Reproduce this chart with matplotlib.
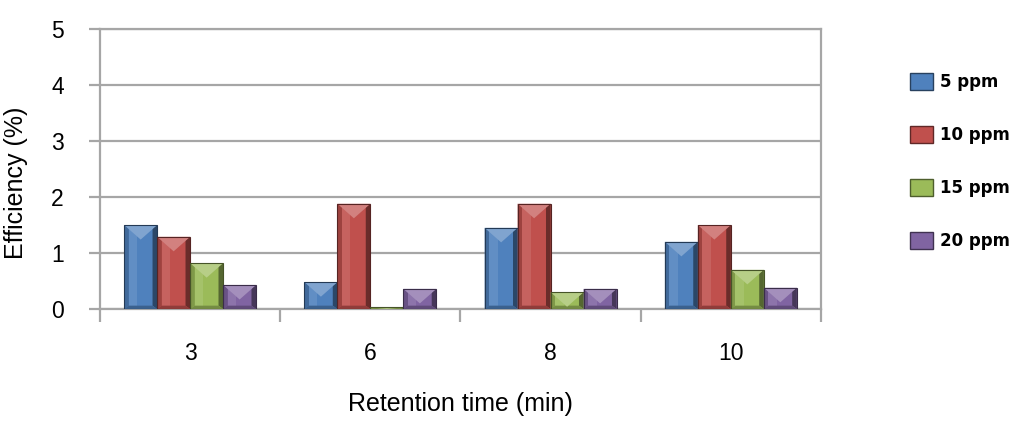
import numpy as np
import matplotlib.pyplot as plt
from matplotlib.patches import Polygon, Patch
from matplotlib.colors import to_rgb

plt.rcParams["font.family"] = ["Liberation Sans", "DejaVu Sans"]

# retention time groups and efficiency per concentration
categories = ["3", "6", "8", "10"]
series_names = ["5 ppm", "10 ppm", "15 ppm", "20 ppm"]
eff_5ppm = [1.50, 0.48, 1.45, 1.20]
eff_10ppm = [1.29, 1.88, 1.88, 1.50]
eff_15ppm = [0.82, 0.03, 0.30, 0.70]
eff_20ppm = [0.43, 0.36, 0.36, 0.38]
series_values = [eff_5ppm, eff_10ppm, eff_15ppm, eff_20ppm]
series_colors = ["#4F81BD", "#C0504D", "#9BBB59", "#8064A2"]


def shade(color, f):
    c = np.array(to_rgb(color))
    if f >= 1:
        return tuple(c + (1 - c) * (f - 1))
    return tuple(c * f)


def bevel_bar(ax, x0, w, h, color):
    # flat body plus lighter/darker faces for the slanted look
    x1 = x0 + w
    bx = w * 0.14
    by = min(0.06, h / 2)
    vd = min(0.26, h)
    ax.add_patch(Polygon([(x0, 0), (x1, 0), (x1, h), (x0, h)], closed=True,
                         facecolor=color, edgecolor="none", zorder=3))
    # left face
    ax.add_patch(Polygon([(x0, 0), (x0 + bx, by), (x0 + bx, h - by), (x0, h)],
                         closed=True, facecolor=shade(color, 0.82), edgecolor="none", zorder=4))
    # centre sheen
    ax.add_patch(Polygon([(x0 + bx, by), (x0 + bx * 2.8, by), (x0 + bx * 2.8, h - by), (x0 + bx, h - by)],
                         closed=True, facecolor=shade(color, 1.1), edgecolor="none", zorder=4))
    # right face
    ax.add_patch(Polygon([(x1, 0), (x1 - bx, by), (x1 - bx, h - by), (x1, h)],
                         closed=True, facecolor=shade(color, 0.55), edgecolor="none", zorder=4))
    # bottom face
    ax.add_patch(Polygon([(x0, 0), (x1, 0), (x1 - bx, by), (x0 + bx, by)],
                         closed=True, facecolor=shade(color, 0.75), edgecolor="none", zorder=4))
    # top V highlight
    ax.add_patch(Polygon([(x0, h), (x1, h), (x0 + w / 2, h - vd)],
                         closed=True, facecolor=shade(color, 1.28), edgecolor="none", zorder=5))
    ax.add_patch(Polygon([(x0, 0), (x1, 0), (x1, h), (x0, h)], closed=True,
                         facecolor="none", edgecolor=shade(color, 0.45), linewidth=0.8, zorder=6))


fig = plt.figure(figsize=(10.28, 4.21), dpi=100)
ax = fig.add_axes([0.0973, 0.266, 0.7013, 0.665])

n = len(series_names)
bw = 0.183
x = np.arange(len(categories))
for i, (vals, col) in enumerate(zip(series_values, series_colors)):
    for xi, v in zip(x, vals):
        bevel_bar(ax, xi - n * bw / 2 + i * bw, bw, v, col)

ax.set_xlim(-0.5, len(categories) - 0.5)
ax.set_ylim(0, 5)
ax.set_yticks(range(6))
ax.yaxis.grid(True, color="#A6A6A6", linewidth=1.6, zorder=0)
ax.set_axisbelow(True)

ax.set_xticks(x)
ax.set_xticklabels(categories)
ax.set_xticks(np.arange(-0.5, len(categories)), minor=True)
ax.tick_params(axis="x", which="major", length=0, pad=24, labelsize=16.5)
ax.tick_params(axis="x", which="minor", length=9, width=1.6, color="#A6A6A6")
ax.tick_params(axis="y", length=8, width=1.6, color="#A6A6A6", labelsize=16.5, pad=18)

for s in ax.spines.values():
    s.set_color("#A6A6A6")
    s.set_linewidth(1.6)

ax.set_xlabel("Retention time (min)", fontsize=18, labelpad=19)
ax.set_ylabel("Efficiency (%)", fontsize=18, labelpad=17)
ax.yaxis.label.set_y(0.45)

handles = [Patch(facecolor=c, edgecolor=shade(c, 0.5)) for c in series_colors]
fig.legend(handles, series_names, loc="upper left", bbox_to_anchor=(0.885, 0.826),
           frameon=False, prop={"family": "DejaVu Sans", "weight": "bold", "size": 12},
           borderpad=0, borderaxespad=0,
           handlelength=1.38, handleheight=1.15, handletextpad=0.45, labelspacing=2.1)

fig.savefig("out.png", dpi=100)
